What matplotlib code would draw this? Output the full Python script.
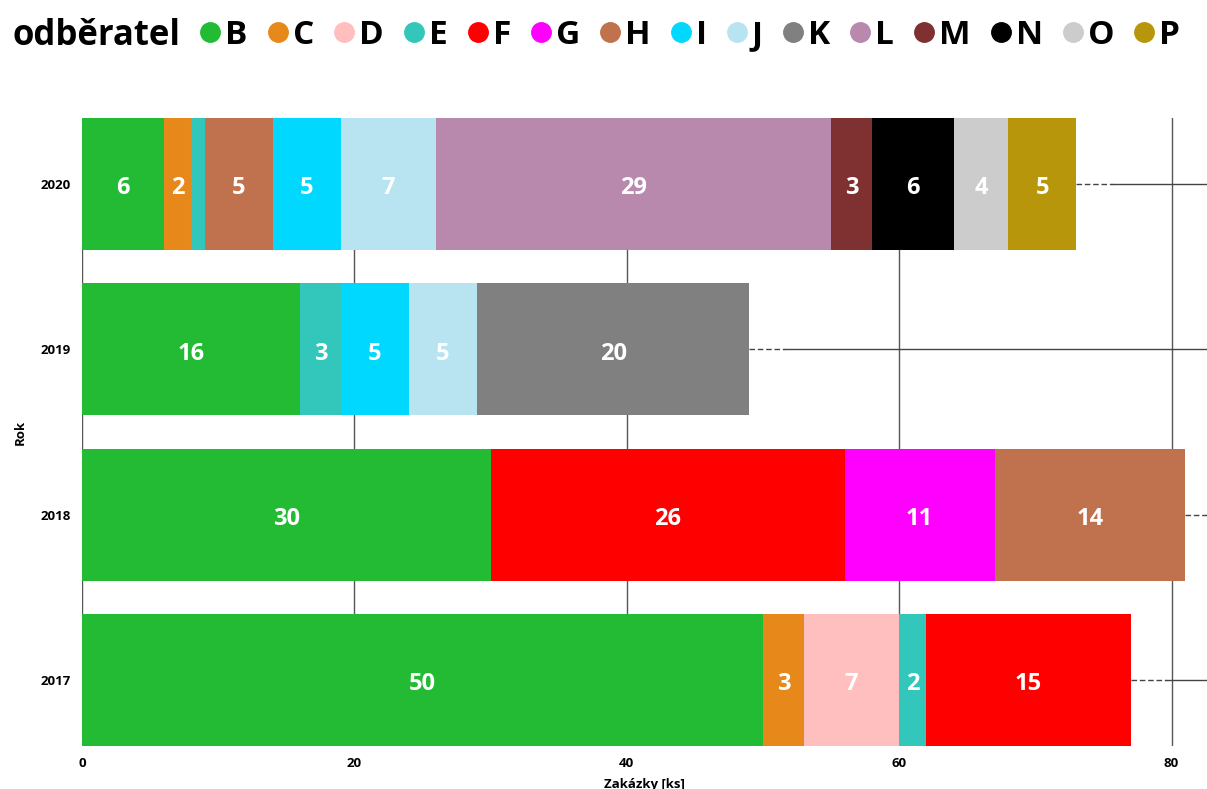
import matplotlib

matplotlib.use("Agg")
import matplotlib.pyplot as plt
from matplotlib.lines import Line2D

plt.rcParams["font.family"] = ["Open Sans", "DejaVu Sans"]
plt.rcParams["font.weight"] = "bold"

YEARS = ["2017", "2018", "2019", "2020"]
CUSTOMERS = ["B", "C", "D", "E", "F", "G", "H", "I", "J", "K", "L", "M", "N", "O", "P"]
COLORS = ["#22BB33", "#E6881A", "#FFBFBF", "#33C6BB", "#FF0000", "#FF00FF", "#C0724F",
          "#00D8FF", "#B8E4F2", "#808080", "#B888AD", "#7F3030", "#000000", "#CCCCCC", "#B8960C"]

# orders per customer, one value per year (2017, 2018, 2019, 2020)
B = [50, 30, 16, 6]
C = [3, 0, 0, 2]
D = [7, 0, 0, 0]
E = [2, 0, 3, 1]
F = [15, 26, 0, 0]
G = [0, 11, 0, 0]
H = [0, 14, 0, 5]
I = [0, 0, 5, 5]
J = [0, 0, 5, 7]
K = [0, 0, 20, 0]
L = [0, 0, 0, 29]
M = [0, 0, 0, 3]
N = [0, 0, 0, 6]
O = [0, 0, 0, 4]
P = [0, 0, 0, 5]
SERIES = [B, C, D, E, F, G, H, I, J, K, L, M, N, O, P]

XMAX = 82.6

fig = plt.figure(figsize=(12.07, 7.89), dpi=100)
ax = fig.add_axes([0.068, 0.0545, 0.932, 0.796])

ypos = list(range(len(YEARS)))
left = [0] * len(YEARS)
for name, vals, col in zip(CUSTOMERS, SERIES, COLORS):
    bars = ax.barh(ypos, vals, left=left, height=0.8, color=col, zorder=3)
    labels = [str(v) if v >= 2 else "" for v in vals]
    anns = ax.bar_label(bars, labels=labels, label_type="center", color="white",
                        fontsize=17, fontweight="bold")
    for a in anns:
        a.xyann = (0, -3)
    left = [a + b for a, b in zip(left, vals)]

# leader lines from bar ends to the right edge
for y, total in zip(ypos, left):
    ax.plot([total, total + 2.6], [y, y], color="#444444", lw=1.0,
            ls=(0, (4, 2)), zorder=2)
    ax.plot([total + 2.6, XMAX], [y, y], color="#444444", lw=1.0, zorder=2)

for x in [0, 20, 40, 60, 80]:
    ax.axvline(x, color="#555555", lw=1.0, zorder=1)

ax.set_xlim(0, XMAX)
ax.set_ylim(-0.4, 3.4)
ax.set_yticks(ypos)
ax.set_yticklabels(YEARS, fontsize=9.5, fontweight="bold")
ax.set_xticks([0, 20, 40, 60, 80])
ax.set_xticklabels(["0", "20", "40", "60", "80"], fontsize=9.5, fontweight="bold")
ax.tick_params(length=0, pad=8)
for s in ax.spines.values():
    s.set_visible(False)
ax.set_xlabel("Zakázky [ks]", fontsize=9.5, fontweight="bold", labelpad=6)
ax.set_ylabel("Rok", fontsize=9.5, fontweight="bold", labelpad=10)

fig.text(0.01, 0.955, "odběratel", fontsize=25, fontweight="bold", va="center")
handles = [Line2D([], [], marker="o", ls="none", color=c, markersize=14) for c in COLORS]
fig.legend(handles, CUSTOMERS, loc="center left", bbox_to_anchor=(0.166, 0.955),
           ncol=len(CUSTOMERS), frameon=False, fontsize=24,
           handletextpad=0.15, columnspacing=0.6, handlelength=0.6,
           borderaxespad=0, borderpad=0)

fig.savefig("out.png", dpi=100)
